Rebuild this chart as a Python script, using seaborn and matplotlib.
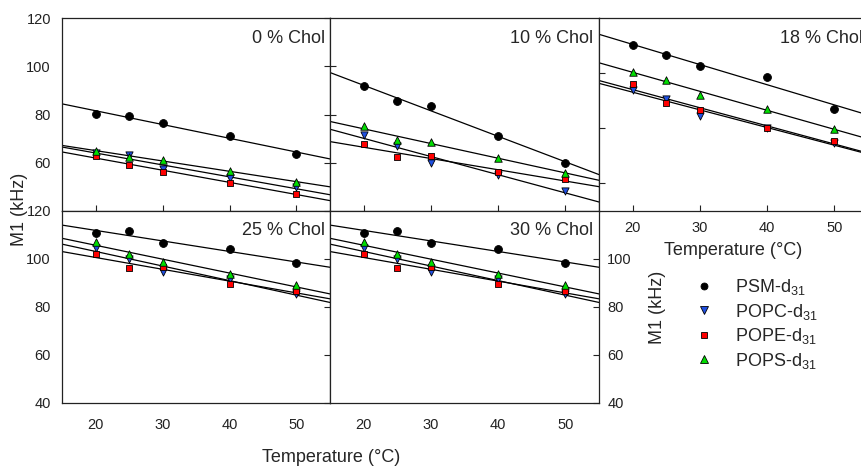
import numpy as np
import pandas as pd
import matplotlib
matplotlib.use("Agg")
import matplotlib.pyplot as plt
import seaborn as sns
from matplotlib.lines import Line2D

# ---------------- data ----------------
temps = [20, 25, 30, 40, 50]
lipids = ["PSM", "POPC", "POPE", "POPS"]
legend_labels = ["PSM-d$_{31}$", "POPC-d$_{31}$", "POPE-d$_{31}$", "POPS-d$_{31}$"]
panel_titles = ["0 % Chol", "10 % Chol", "18 % Chol", "25 % Chol", "30 % Chol"]

psm_0 = [80.2, 79.4, 76.6, 71.0, 63.5]
popc_0 = [64.0, 63.1, 57.5, 53.7, 49.8]
pope_0 = [62.7, 59.1, 56.3, 51.7, 47.2]
pops_0 = [65.0, 62.4, 61.3, 56.7, 51.9]

psm_10 = [91.8, 85.6, 83.4, 71.2, 59.8]
popc_10 = [71.4, 67.1, 59.8, 54.9, 48.4]
pope_10 = [67.6, 62.3, 62.8, 56.0, 53.1]
pops_10 = [75.1, 69.3, 68.6, 61.8, 55.9]

psm_18 = [110.1, 106.5, 102.6, 98.5, 86.9]
popc_18 = [93.9, 90.7, 84.6, 80.0, 74.6]
pope_18 = [96.2, 89.1, 86.6, 80.2, 75.3]
pops_18 = [100.5, 97.4, 92.2, 87.0, 79.6]

psm_25 = [110.7, 111.7, 106.5, 104.0, 98.2]
popc_25 = [104.7, 99.9, 94.7, 91.7, 85.3]
pope_25 = [102.0, 96.4, 96.5, 89.6, 86.7]
pops_25 = [107.2, 102.0, 98.9, 93.9, 89.0]

psm_30 = [110.7, 111.7, 106.5, 104.0, 98.2]
popc_30 = [104.7, 99.9, 94.7, 91.7, 85.3]
pope_30 = [102.0, 96.4, 96.5, 89.6, 86.7]
pops_30 = [107.2, 102.0, 98.9, 93.9, 89.0]

xtick_vals = [20, 30, 40, 50]

panels_data = [
    [psm_0, popc_0, pope_0, pops_0],
    [psm_10, popc_10, pope_10, pops_10],
    [psm_18, popc_18, pope_18, pops_18],
    [psm_25, popc_25, pope_25, pops_25],
    [psm_30, popc_30, pope_30, pops_30],
]

# ---------------- style ----------------
sns.set_style("white")
plt.rcParams["font.family"] = ["Liberation Sans", "DejaVu Sans"]
plt.rcParams["mathtext.fontset"] = "custom"
plt.rcParams["mathtext.rm"] = "Liberation Sans"
plt.rcParams["mathtext.it"] = "Liberation Sans:italic"
plt.rcParams["axes.linewidth"] = 0.9

colors = {"PSM": "#000000", "POPC": "#1f4fe0", "POPE": "#ff0000", "POPS": "#00dd00"}
markers = {"PSM": "o", "POPC": "v", "POPE": "s", "POPS": "^"}
sizes = {"PSM": 32, "POPC": 27, "POPE": 23, "POPS": 29}

W, H = 862, 468
fig = plt.figure(figsize=(W / 100, H / 100), dpi=100)


def rect(x0, y0, x1, y1):
    return [x0 / W, 1 - y1 / H, (x1 - x0) / W, (y1 - y0) / H]


axes = [
    fig.add_axes(rect(62, 18, 330, 211)),
    fig.add_axes(rect(330, 18, 599, 211)),
    fig.add_axes(rect(599, 18, 868, 211)),
    fig.add_axes(rect(62, 211, 330, 403)),
    fig.add_axes(rect(330, 211, 599, 403)),
]
ylims = [(40, 120), (40, 120), (50, 120), (40, 120), (40, 120)]

for i, ax in enumerate(axes):
    ax.set_xlim(15, 55)
    ax.set_ylim(*ylims[i])
    for j, lip in enumerate(lipids):
        vals = panels_data[i][j]
        sns.regplot(x=temps, y=vals, ax=ax, ci=None, truncate=False, scatter=False,
                    color="black", line_kws={"lw": 0.9, "zorder": 2})
    for j, lip in enumerate(lipids):
        vals = panels_data[i][j]
        sns.scatterplot(x=temps, y=vals, ax=ax, marker=markers[lip], s=sizes[lip],
                        color=colors[lip], edgecolor="black", linewidth=0.6,
                        zorder=3 + j, legend=False)
    ax.set_xlim(15, 55)
    ax.set_ylim(*ylims[i])
    for sp in ax.spines.values():
        sp.set_visible(True)
        sp.set_color("#222222")
        sp.set_linewidth(0.9)
    ax.set_xlabel("")
    ax.set_ylabel("")
    ax.text(0.98, 0.873, panel_titles[i], transform=ax.transAxes, ha="right",
            va="baseline", fontsize=13)
    ax.set_xticks(xtick_vals)
    ax.tick_params(labelsize=10.5, width=0.8, colors="#222222")

# top-left
ax = axes[0]
ax.set_yticks([60, 80, 100, 120])
ax.tick_params(axis="y", left=False, right=True, direction="in", length=4,
               labelleft=True, pad=8)
ax.tick_params(axis="x", bottom=True, direction="in", length=4, labelbottom=False)

# top-middle
ax = axes[1]
ax.set_yticks([60, 80, 100])
ax.tick_params(axis="y", left=True, direction="in", length=4, labelleft=False)
ax.tick_params(axis="x", bottom=True, direction="in", length=4, labelbottom=False)

# top-right
ax = axes[2]
ax.set_yticks([60, 80, 100])
ax.tick_params(axis="y", left=True, direction="in", length=4, labelleft=False)
ax.tick_params(axis="x", bottom=True, direction="in", length=4, labelbottom=True, pad=7)
ax.set_xlabel("Temperature (°C)", fontsize=13, labelpad=5.5)

# bottom-left
ax = axes[3]
ax.set_yticks([40, 60, 80, 100, 120])
ax.tick_params(axis="y", left=False, right=True, direction="in", length=4,
               labelleft=True, pad=8)
ax.tick_params(axis="x", bottom=False, labelbottom=True, pad=7)

# bottom-middle
ax = axes[4]
ax.set_yticks([40, 60, 80, 100])
ax.tick_params(axis="y", left=False, right=True, direction="in", length=4,
               labelleft=False, labelright=True, pad=6)
ax.tick_params(axis="x", bottom=False, labelbottom=True, pad=7)
ax.yaxis.set_label_position("right")
ax.set_ylabel("M1 (kHz)", fontsize=13, labelpad=12)

fig.text(20 / W, 1 - 209 / H, "M1 (kHz)", rotation=90, ha="center", va="center", fontsize=13)
fig.text(331 / W, 1 - 458 / H, "Temperature (°C)", ha="center", va="center", fontsize=13)

handles = []
leg_ms = {"PSM": 5.0, "POPC": 5.2, "POPE": 4.6, "POPS": 5.2}
for lip in lipids:
    handles.append(Line2D([], [], linestyle="", marker=markers[lip], markersize=leg_ms[lip],
                          markerfacecolor=colors[lip], markeredgecolor="black",
                          markeredgewidth=0.6))
fig.legend(handles, legend_labels, loc="upper left", bbox_to_anchor=(695 / W, 1 - 277 / H),
           frameon=False, fontsize=13, handlelength=1.0, handletextpad=1.2,
           labelspacing=0.25, borderpad=0, borderaxespad=0)

fig.savefig("out.png", dpi=100)
